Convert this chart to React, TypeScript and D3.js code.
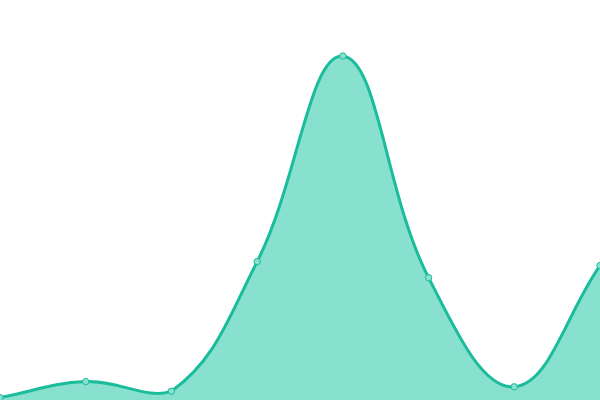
import React, { useEffect, useRef } from 'react';
import * as d3 from 'd3';

const labels = ['A', 'B', 'C', 'D', 'E', 'F', 'G', 'H'];
const values = [0.6, 4.6, 2.2, 34.6, 86.0, 30.6, 3.3, 33.6];

const width = 600;
const height = 400;
const lineColor = '#1abc9c';
const fillColor = '#88e0cf';

type Pt = { x: number; y: number };

// chart.js style spline (tension 0.4) drawn with d3.path
function splinePath(pts: Pt[], tension: number, close: boolean) {
  const cps = pts.map((cur, i) => {
    const prev = pts[i - 1] || cur;
    const next = pts[i + 1] || cur;
    const d01 = Math.hypot(cur.x - prev.x, cur.y - prev.y);
    const d12 = Math.hypot(next.x - cur.x, next.y - cur.y);
    let s01 = d01 / (d01 + d12);
    let s12 = d12 / (d01 + d12);
    s01 = isNaN(s01) ? 0 : s01;
    s12 = isNaN(s12) ? 0 : s12;
    const fa = tension * s01;
    const fb = tension * s12;
    const clampX = (v: number) => Math.max(0, Math.min(width, v));
    const clampY = (v: number) => Math.max(0, Math.min(height, v));
    return {
      px: clampX(cur.x - fa * (next.x - prev.x)),
      py: clampY(cur.y - fa * (next.y - prev.y)),
      nx: clampX(cur.x + fb * (next.x - prev.x)),
      ny: clampY(cur.y + fb * (next.y - prev.y)),
    };
  });
  const p = d3.path();
  p.moveTo(pts[0].x, pts[0].y);
  for (let i = 1; i < pts.length; i++) {
    p.bezierCurveTo(cps[i - 1].nx, cps[i - 1].ny, cps[i].px, cps[i].py, pts[i].x, pts[i].y);
  }
  if (close) {
    p.lineTo(pts[pts.length - 1].x, height);
    p.lineTo(pts[0].x, height);
    p.closePath();
  }
  return p.toString();
}

const App: React.FC = () => {
  const svgRef = useRef<SVGSVGElement | null>(null);

  useEffect(() => {
    if (!svgRef.current) return;
    const svg = d3.select(svgRef.current);
    svg.selectAll('*').remove();

    const x = d3.scalePoint<string>().domain(labels).range([0, width]);
    const y = d3.scaleLinear().domain([0, 100]).range([height, 0]);

    const pts: Pt[] = values.map((v, i) => ({ x: x(labels[i]) as number, y: y(v) }));

    svg.append('path')
      .attr('d', splinePath(pts, 0.4, true))
      .attr('fill', fillColor)
      .attr('stroke', 'none');

    svg.append('path')
      .attr('d', splinePath(pts, 0.4, false))
      .attr('fill', 'none')
      .attr('stroke', lineColor)
      .attr('stroke-width', 3);

    svg.append('g')
      .selectAll('circle')
      .data(pts)
      .join('circle')
      .attr('cx', (d) => d.x)
      .attr('cy', (d) => d.y)
      .attr('r', 3.2)
      .attr('fill', fillColor)
      .attr('stroke', lineColor)
      .attr('stroke-width', 1);
  }, []);

  return (
    <svg
      ref={svgRef}
      width={width}
      height={height}
      style={{ position: 'fixed', left: 0, top: 0, background: '#fff' }}
    ></svg>
  );
};

export default App;
